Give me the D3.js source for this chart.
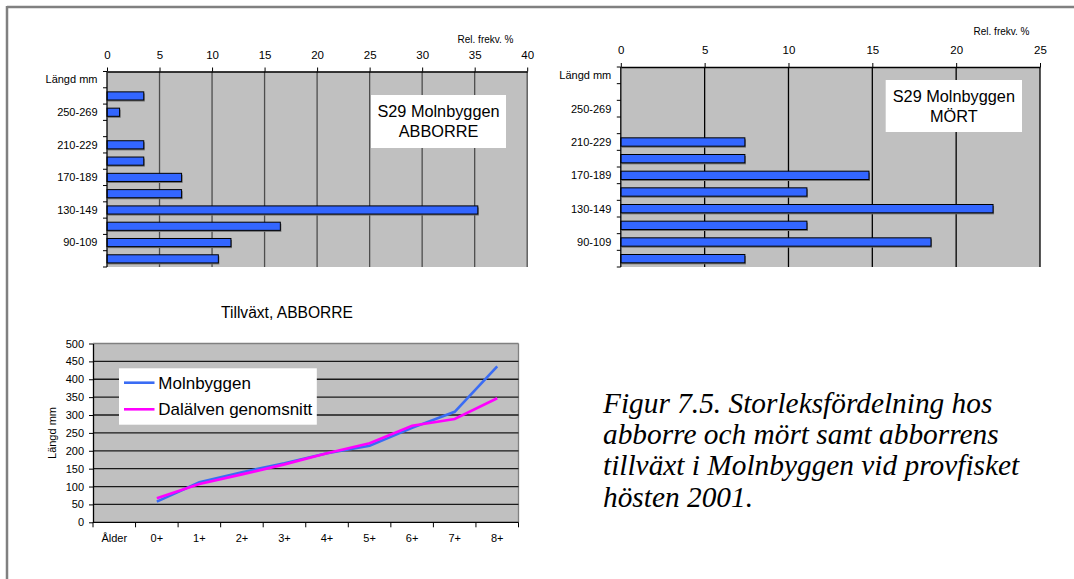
<!DOCTYPE html>
<html>
<head>
<meta charset="utf-8">
<script src="https://cdn.jsdelivr.net/npm/d3@7"></script>
<style>
  html, body { margin: 0; padding: 0; background: #fff; }
  svg { display: block; }
  text { font-family: "Liberation Sans", Arial, sans-serif; fill: #000; }
</style>
</head>
<body>
<svg id="fig" width="1074" height="579"></svg>
<script>
// Length classes, listed top to bottom as they appear on the category axis
const lengthClasses = ["Längd mm", "270-289", "250-269", "230-249", "210-229", "190-209",
                       "170-189", "150-169", "130-149", "110-129", "90-109", "70-89"];
// Every other class carries a visible label
const shownClassLabels = ["Längd mm", "250-269", "210-229", "170-189", "130-149", "90-109"];

// Relative frequency (%) per length class, same order as lengthClasses
const abborreFreq = [0, 3.5, 1.2, 0, 3.5, 3.5, 7.1, 7.1, 35.3, 16.5, 11.8, 10.6];
const mortFreq    = [0, 0, 0, 0, 7.4, 7.4, 14.8, 11.1, 22.2, 11.1, 18.5, 7.4];

const abborreTicks = [0, 5, 10, 15, 20, 25, 30, 35, 40];
const mortTicks    = [0, 5, 10, 15, 20, 25];

// Growth chart
const ageClasses = ["Ålder", "0+", "1+", "2+", "3+", "4+", "5+", "6+", "7+", "8+"];
const molnbyggen = [null, 58, 112, 140, 165, 193, 214, 264, 309, 436];
const dalalven   = [null, 67, 107, 134, 162, 193, 221, 270, 289, 347];
const lengthTicks = [0, 50, 100, 150, 200, 250, 300, 350, 400, 450, 500];

const BAR_BLUE = "#3366ff";
const svg = d3.select("#fig");

// Frame around the figure
svg.append("line").attr("x1", 7).attr("y1", 7).attr("x2", 1074).attr("y2", 7)
  .attr("stroke", "#808080").attr("stroke-width", 2.5);
svg.append("line").attr("x1", 7).attr("y1", 6).attr("x2", 7).attr("y2", 579)
  .attr("stroke", "#808080").attr("stroke-width", 2.5);

function barChart(o) {
  const g = svg.append("g");
  const x = d3.scaleLinear().domain([0, o.max]).range([o.left, o.right]);
  const y = d3.scaleBand().domain(lengthClasses).range([o.top, o.bottom]).padding(0);

  g.append("rect").attr("x", o.left).attr("y", o.top)
    .attr("width", o.right - o.left).attr("height", o.bottom - o.top)
    .attr("fill", "#c0c0c0");

  // vertical gridlines
  g.selectAll(".grid").data(o.ticks.slice(1)).join("line")
    .attr("x1", d => x(d)).attr("x2", d => x(d))
    .attr("y1", o.top).attr("y2", o.bottom)
    .attr("stroke", o.gridColor).attr("stroke-width", 1.3);

  // bars with a faint drop shadow
  const rows = lengthClasses.map((c, i) => ({ c, v: o.values[i] })).filter(d => d.v > 0);
  const bh = y.bandwidth() * 0.5;
  g.selectAll(".shadow").data(rows).join("rect")
    .attr("x", x(0) + 1).attr("y", d => y(d.c) + (y.bandwidth() - bh) / 2 + 1.5)
    .attr("width", d => x(d.v) - x(0)).attr("height", bh)
    .attr("fill", "#6e6e6e");
  g.selectAll(".bar").data(rows).join("rect")
    .attr("x", x(0)).attr("y", d => y(d.c) + (y.bandwidth() - bh) / 2)
    .attr("width", d => x(d.v) - x(0)).attr("height", bh)
    .attr("fill", BAR_BLUE).attr("stroke", "#000").attr("stroke-width", 1);

  // top value axis
  const ax = g.append("g").attr("transform", `translate(0,${o.top})`)
    .call(d3.axisTop(x).tickValues(o.ticks).tickSize(4).tickPadding(o.tickPad).tickSizeOuter(0));
  ax.select(".domain").attr("stroke", "#000").attr("stroke-width", 1.3);
  ax.selectAll(".tick line").attr("stroke", "#000");
  ax.selectAll("text").attr("font-size", 11.5).attr("font-family", "Liberation Sans, Arial");

  // category axis: line, ticks at class boundaries, labels on every other class
  g.append("line").attr("x1", o.left).attr("x2", o.left).attr("y1", o.top).attr("y2", o.bottom)
    .attr("stroke", "#000").attr("stroke-width", 1.3);
  const bounds = d3.range(lengthClasses.length + 1).map(i => o.top + i * y.step());
  g.selectAll(".ytick").data(bounds).join("line")
    .attr("x1", o.left - 4).attr("x2", o.left).attr("y1", d => d).attr("y2", d => d)
    .attr("stroke", "#000");
  g.selectAll(".ylab").data(shownClassLabels).join("text")
    .attr("x", o.left - 9.5).attr("y", d => y(d) + y.bandwidth() / 2)
    .attr("dy", "0.35em").attr("text-anchor", "end").attr("font-size", 11)
    .text(d => d);

  g.append("text").attr("x", o.unitX).attr("y", o.unitY).attr("dy", "0.35em")
    .attr("text-anchor", "end").attr("font-size", 10).text("Rel. frekv. %");

  // title box
  g.append("rect").attr("x", o.box[0]).attr("y", o.box[1])
    .attr("width", o.box[2]).attr("height", o.box[3]).attr("fill", "#fff");
  const cx = o.box[0] + o.box[2] / 2;
  g.append("text").attr("x", cx).attr("y", o.box[1] + o.box[3] / 2 - 10)
    .attr("dy", "0.35em").attr("text-anchor", "middle").attr("font-size", 16.3)
    .text("S29 Molnbyggen");
  g.append("text").attr("x", cx).attr("y", o.box[1] + o.box[3] / 2 + 10)
    .attr("dy", "0.35em").attr("text-anchor", "middle").attr("font-size", 16.3)
    .text(o.species);
}

barChart({
  left: 107, right: 527.2, top: 71.5, bottom: 267, max: 40, tickPad: 9,
  ticks: abborreTicks, values: abborreFreq, gridColor: "#4d4d4d",
  unitX: 513.5, unitY: 39, box: [371, 95, 135, 53], species: "ABBORRE"
});
barChart({
  left: 620.8, right: 1040, top: 67, bottom: 267, max: 25, tickPad: 9,
  ticks: mortTicks, values: mortFreq, gridColor: "#000",
  unitX: 1029.5, unitY: 31, box: [885.7, 80, 136.3, 52], species: "MÖRT"
});

// Growth line chart
(function () {
  const L = 93, R = 518.5, T = 343.5, B = 522.3;
  const g = svg.append("g");
  const x = d3.scaleBand().domain(ageClasses).range([L, R]).padding(0);
  const y = d3.scaleLinear().domain([0, 500]).range([B, T]);

  g.append("rect").attr("x", L).attr("y", T).attr("width", R - L).attr("height", B - T)
    .attr("fill", "#c0c0c0");
  g.append("line").attr("x1", L).attr("x2", R).attr("y1", T).attr("y2", T)
    .attr("stroke", "#808080").attr("stroke-width", 1.3);
  g.append("line").attr("x1", R).attr("x2", R).attr("y1", T).attr("y2", B)
    .attr("stroke", "#808080").attr("stroke-width", 1.3);

  g.selectAll(".hgrid").data(lengthTicks.slice(1, -1)).join("line")
    .attr("x1", L).attr("x2", R).attr("y1", d => y(d)).attr("y2", d => y(d))
    .attr("stroke", "#1a1a1a").attr("stroke-width", 1.3);

  // value axis
  const ay = g.append("g").attr("transform", `translate(${L},0)`)
    .call(d3.axisLeft(y).tickValues(lengthTicks).tickSize(4).tickPadding(5).tickSizeOuter(0));
  ay.select(".domain").attr("stroke", "#000").attr("stroke-width", 1.3);
  ay.selectAll(".tick line").attr("stroke", "#000");
  ay.selectAll("text").attr("font-size", 11).attr("font-family", "Liberation Sans, Arial");

  // category axis with ticks at class boundaries
  g.append("line").attr("x1", L).attr("x2", R).attr("y1", B).attr("y2", B)
    .attr("stroke", "#000").attr("stroke-width", 1.3);
  const bounds = d3.range(ageClasses.length + 1).map(i => L + i * x.step());
  g.selectAll(".xtick").data(bounds).join("line")
    .attr("x1", d => d).attr("x2", d => d).attr("y1", B).attr("y2", B + 5)
    .attr("stroke", "#000");
  g.selectAll(".xlab").data(ageClasses).join("text")
    .attr("x", d => x(d) + x.bandwidth() / 2).attr("y", 538.5).attr("dy", "0.35em")
    .attr("text-anchor", "middle").attr("font-size", 11).text(d => d);

  g.append("text").attr("transform", "translate(52.5,433) rotate(-90)")
    .attr("dy", "0.35em").attr("text-anchor", "middle").attr("font-size", 11).text("Längd mm");

  g.append("text").attr("x", 287).attr("y", 313).attr("dy", "0.35em")
    .attr("text-anchor", "middle").attr("font-size", 15.6).text("Tillväxt, ABBORRE");

  const line = d3.line()
    .defined(d => d.v != null)
    .x(d => x(d.c) + x.bandwidth() / 2).y(d => y(d.v));
  const series = [
    { name: "Molnbyggen", color: "#3a6cf4", vals: molnbyggen },
    { name: "Dalälven genomsnitt", color: "#ff00ff", vals: dalalven }
  ];
  series.forEach(s => {
    g.append("path").datum(ageClasses.map((c, i) => ({ c, v: s.vals[i] })))
      .attr("d", line).attr("fill", "none").attr("stroke", s.color)
      .attr("stroke-width", 2.6).attr("stroke-linejoin", "miter");
  });

  // legend
  g.append("rect").attr("x", 119).attr("y", 368.3).attr("width", 197.8).attr("height", 56.4)
    .attr("fill", "#fff");
  series.forEach((s, i) => {
    const ly = 382.7 + i * 26.6;
    g.append("line").attr("x1", 124).attr("x2", 154.5).attr("y1", ly).attr("y2", ly)
      .attr("stroke", s.color).attr("stroke-width", 2.6);
    g.append("text").attr("x", 158.3).attr("y", ly).attr("dy", "0.35em")
      .attr("font-size", 17).text(s.name);
  });
})();

// Figure caption
const caption = ["Figur 7.5. Storleksfördelning hos",
                 "abborre och mört samt abborrens",
                 "tillväxt i Molnbyggen vid provfisket",
                 "hösten 2001."];
svg.append("g").attr("transform", "translate(603,0) scale(1.03,1)")
  .selectAll("text").data(caption).join("text")
  .attr("x", 0).attr("y", (d, i) => 402.7 + i * 31.4).attr("dy", "0.35em")
  .style("font-family", "'Liberation Serif', 'Times New Roman', serif")
  .style("font-style", "italic").attr("font-size", 28.5).text(d => d);
</script>
</body>
</html>
